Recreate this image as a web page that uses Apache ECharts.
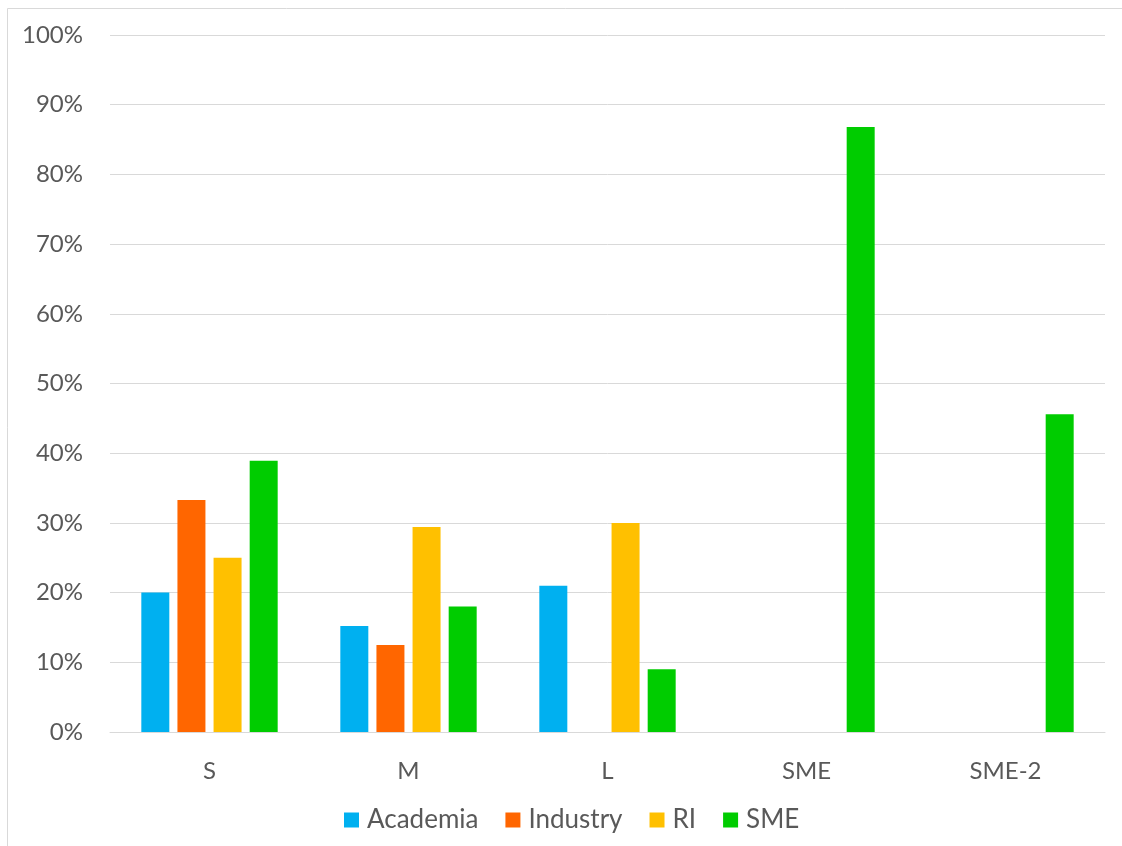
<!DOCTYPE html>
<html>
<head>
<meta charset="utf-8">
<script src="https://cdn.jsdelivr.net/npm/echarts@6/dist/echarts.min.js"></script>
<style>
  html, body { margin: 0; padding: 0; background: #fff; }
  #chart { width: 1122px; height: 846px; }
</style>
</head>
<body>
<div id="chart"></div>
<script>
// Share of respondents per size class, by organisation type (percent)
const categories = ['S', 'M', 'L', 'SME', 'SME-2'];
const academia = [20, 15.2, 21, null, null];
const industry = [33.3, 12.5, null, null, null];
const ri = [25, 29.4, 30, null, null];
const sme = [38.9, 18, 9, 86.8, 45.6];
const yTicks = [0, 10, 20, 30, 40, 50, 60, 70, 80, 90, 100];

const FONT = 'Lato, "Open Sans", sans-serif';
const TEXT = '#595959';

const chart = echarts.init(document.getElementById('chart'), null, { renderer: 'canvas' });

function bar(name, data, color) {
  return {
    name: name,
    type: 'bar',
    data: data,
    barWidth: 28,
    barGap: '29%',
    itemStyle: { color: color }
  };
}

chart.setOption({
  backgroundColor: '#ffffff',
  animation: false,
  graphic: [{
    type: 'rect',
    shape: { x: 7.5, y: 8.5, width: 1200, height: 1000 },
    style: { fill: 'none', stroke: '#d9d9d9', lineWidth: 1 },
    silent: true
  }],
  grid: { left: 110, right: 17, top: 35, bottom: 114 },
  legend: {
    bottom: 8,
    left: 339,
    itemWidth: 15,
    itemHeight: 15,
    itemGap: 27,
    icon: 'rect',
    textStyle: { fontFamily: FONT, fontSize: 26, color: TEXT, padding: [0, 0, 0, 3] },
    data: ['Academia', 'Industry', 'RI', 'SME']
  },
  xAxis: {
    type: 'category',
    data: categories,
    axisLine: { lineStyle: { color: '#d9d9d9', width: 1 } },
    axisTick: { show: false },
    axisLabel: { fontFamily: FONT, fontSize: 24, color: TEXT, margin: 27 }
  },
  yAxis: {
    type: 'value',
    min: yTicks[0],
    max: yTicks[yTicks.length - 1],
    interval: 10,
    axisLine: { show: false },
    axisTick: { show: false },
    splitLine: { lineStyle: { color: '#d9d9d9', width: 1 } },
    axisLabel: {
      fontFamily: FONT, fontSize: 24, color: TEXT, margin: 27,
      formatter: v => v + '%'
    }
  },
  series: [
    bar('Academia', academia, '#00B0F0'),
    bar('Industry', industry, '#FF6600'),
    bar('RI', ri, '#FFC000'),
    bar('SME', sme, '#00CC00')
  ]
});
</script>
</body>
</html>
